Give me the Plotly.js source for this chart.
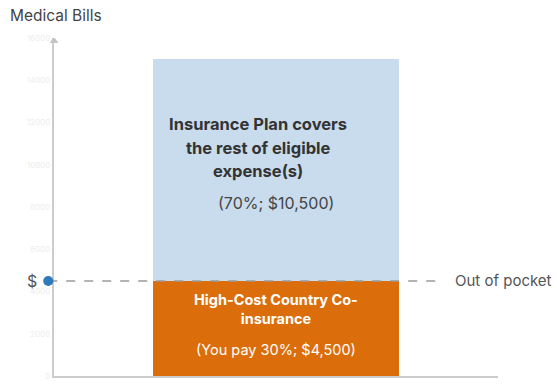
<!DOCTYPE html>
<html>
<head>
<meta charset="utf-8">
<script src="https://cdn.plot.ly/plotly-3.0.1.min.js"></script>
<style>html,body{margin:0;padding:0;background:#fff;}#chart{width:557px;height:389px;}</style>
</head>
<body>
<div id="chart"></div>
<script>
const categories = ["Visit(s)"];
const outOfPocket = [4500];
const insuranceCovers = [10500];
const tickValues = [0, 2000, 4000, 6000, 8000, 10000, 12000, 14000, 16000];
const tickLabels = ["0", "2000", "4000", "6000", "8000", "10000", "12000", "14000", "16000"];
const outOfPocketLevel = 4500;
const insuranceLines = ["Insurance Plan covers", "the rest of eligible", "expense(s)"];

const F = "Inter, 'Open Sans', sans-serif";

const traces = [
  {type: "bar", x: categories, y: outOfPocket, width: 0.556,
   marker: {color: "#db6e0a"}, hoverinfo: "skip"},
  {type: "bar", x: categories, y: insuranceCovers, width: 0.556,
   marker: {color: "#c8dcee"}, hoverinfo: "skip"}
];

const annotations = [
  {xref: "paper", yref: "paper", x: -0.104, y: 1.0, yshift: 34, xanchor: "left", yanchor: "top",
   text: "Medical Bills", showarrow: false, font: {size: 15.5, color: "#444", family: F}},
  {xref: "x", yref: "y", x: 0, y: outOfPocket[0] + insuranceCovers[0] * 0.35, yanchor: "middle",
   text: "(70%; $10,500)", showarrow: false, font: {size: 16, color: "#444", family: F}},
  {xref: "x", yref: "y", x: 0, y: outOfPocket[0] * 0.7, yanchor: "middle",
   text: "<b>High-Cost Country Co-<br>insurance</b>", showarrow: false,
   font: {size: 14.5, color: "#fff", family: F}, align: "center"},
  {xref: "x", yref: "y", x: 0, y: outOfPocket[0] * 0.275, yanchor: "middle",
   text: "(You pay 30%; $4,500)", showarrow: false, font: {size: 14.5, color: "#fff", family: F}},
  {xref: "paper", yref: "y", x: -0.05, y: outOfPocketLevel, xanchor: "center", yanchor: "middle",
   text: "$", showarrow: false, font: {size: 16, color: "#555", family: F}},
  {xref: "paper", yref: "y", x: 0.8986, y: outOfPocketLevel, xanchor: "left", yanchor: "middle",
   text: "Out of pocket", showarrow: false, font: {size: 15, color: "#555", family: F}},
  {xref: "x", yref: "paper", x: 0, y: 0, yshift: -12, yanchor: "top",
   text: categories[0], showarrow: false, font: {size: 9, color: "#ededed", family: F}}
];
insuranceLines.forEach((t, i) => {
  annotations.push({xref: "x", yref: "y", x: 0, xshift: -18,
    y: outOfPocket[0] + insuranceCovers[0] * 0.60, yshift: 23.5 * (1 - i), yanchor: "middle",
    text: "<b>" + t + "</b>", showarrow: false, font: {size: 16.5, color: "#333", family: F}});
});

const layout = {
  width: 557, height: 389,
  margin: {l: 54, r: 59, t: 38, b: 13},
  paper_bgcolor: "#fff", plot_bgcolor: "#fff",
  barmode: "stack", showlegend: false, bargap: 0,
  font: {family: F},
  xaxis: {type: "category", range: [-0.5, 0.5], showticklabels: false, ticks: "",
          showline: true, linecolor: "#cccccc", linewidth: 2, showgrid: false, zeroline: false, fixedrange: true},
  yaxis: {range: [0, 16000], tickvals: tickValues, ticktext: tickLabels, ticks: "",
          tickfont: {size: 8, color: "#ededed", family: F},
          showline: true, linecolor: "#cccccc", linewidth: 2, showgrid: false, zeroline: false, fixedrange: true},
  shapes: [
    {type: "line", xref: "paper", yref: "y", x0: -0.013, x1: 0.869, y0: outOfPocketLevel, y1: outOfPocketLevel,
     line: {color: "#9a9a9a", width: 1.5, dash: "dash"}, layer: "above"},
    {type: "circle", xref: "paper", yref: "y", xsizemode: "pixel", ysizemode: "pixel",
     xanchor: -0.013, yanchor: outOfPocketLevel, x0: -5, x1: 5, y0: -5, y1: 5,
     fillcolor: "#2f79bd", line: {width: 0}},
    {type: "path", xref: "paper", yref: "y", xsizemode: "pixel", ysizemode: "pixel",
     xanchor: 0, yanchor: 16000, path: "M -4.5,-5 L 0,1 L 4.5,-5 Z",
     fillcolor: "#c4c4c4", line: {width: 0}}
  ],
  annotations: annotations
};

Plotly.newPlot("chart", traces, layout, {staticPlot: true, displayModeBar: false});
</script>
</body>
</html>
